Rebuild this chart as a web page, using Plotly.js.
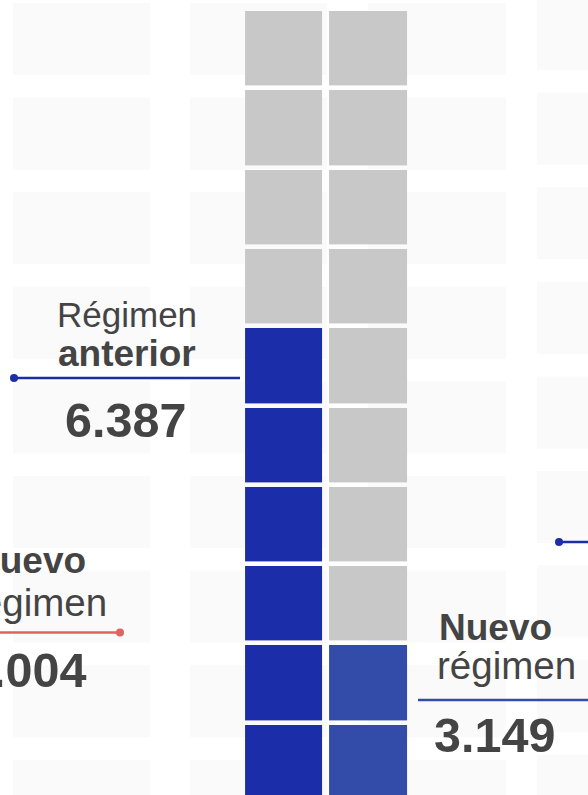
<!DOCTYPE html>
<html>
<head>
<meta charset="utf-8">
<script src="https://cdn.plot.ly/plotly-3.0.1.min.js"></script>
<style>
  html, body { margin: 0; padding: 0; background: #ffffff; }
  #chart { width: 588px; height: 795px; }
</style>
</head>
<body>
<div id="chart"></div>
<script>
// ---- data ----
const groups = ['Régimen anterior', 'Nuevo régimen'];
const groupValues = ['6.387', '3.149'];
const filledCells = [6, 2];          // coloured cells per column, counted from the bottom
const cellRows = 10;                 // visible cells per column
const otherGroup = 'Nuevo régimen';  // partly cropped label on the left
const otherValue = '3.004';

// ---- styles ----
const GRAY = '#c8c8c8';
const BLUE_DARK = '#1b2da9';
const BLUE_MID = '#344ca9';
const RED = '#e06262';
const TEXT = '#444444';
const FONT = 'Liberation Sans, Arial, Helvetica, sans-serif';

// build the waffle matrix (rows top -> bottom, columns left -> right)
const z = [];
for (let r = 0; r < cellRows; r++) {
  const row = [];
  for (let c = 0; c < groups.length; c++) {
    const filled = r >= cellRows - filledCells[c];
    row.push(filled ? c + 1 : 0);
  }
  z.push(row);
}

const waffle = {
  type: 'heatmap',
  z: z,
  x0: 284.2, dx: 84.3,
  y0: 48.6, dy: 79.3,
  xgap: 7, ygap: 4.6,
  zmin: 0, zmax: 2,
  colorscale: [
    [0, GRAY], [0.333, GRAY],
    [0.333, BLUE_DARK], [0.667, BLUE_DARK],
    [0.667, BLUE_MID], [1, BLUE_MID]
  ],
  showscale: false,
  hoverinfo: 'skip'
};

// faint background grid of placeholder cells
const shapes = [];
const bgCols = [[13, 150, 3], [190, 327, 3], [368, 506, 3], [537, 675, -2]];
bgCols.forEach(([x0, x1, off]) => {
  for (let k = 0; k < 9; k++) {
    const y0 = off + 94.6 * k;
    shapes.push({
      type: 'rect', layer: 'below', xref: 'x', yref: 'y',
      x0: x0, x1: x1, y0: y0, y1: y0 + 72,
      fillcolor: '#fafafa', line: { width: 0 }
    });
  }
});

function leader(x0, x1, y, color, dotX) {
  shapes.push({ type: 'line', xref: 'x', yref: 'y', x0: x0, x1: x1, y0: y, y1: y,
    line: { color: color, width: 2.6 } });
  if (dotX !== null) {
    shapes.push({ type: 'circle', xref: 'x', yref: 'y',
      x0: dotX - 4, x1: dotX + 4, y0: y - 4, y1: y + 4,
      fillcolor: color, line: { width: 0 } });
  }
}
leader(14, 240, 378, BLUE_DARK, 14);        // Régimen anterior
leader(418, 600, 700, BLUE_MID, null);      // Nuevo régimen (right)
leader(-10, 120, 632.5, RED, 120);          // cropped group on the left
leader(559, 600, 542, BLUE_DARK, 559);      // cropped group on the right

const [antA, antB] = groups[0].split(' ');
const [newA, newB] = groups[1].split(' ');
const [othA, othB] = otherGroup.split(' ');

function ann(text, x, y, size, bold, xanchor) {
  return {
    xref: 'x', yref: 'y', x: x, y: y, showarrow: false,
    xanchor: xanchor, yanchor: 'middle',
    text: bold ? '<b>' + text + '</b>' : text,
    font: { family: FONT, size: size, color: TEXT }
  };
}

const annotations = [
  ann(antA, 127, 314, 35, false, 'center'),
  ann(antB, 127, 353, 37, true, 'center'),
  ann(groupValues[0], 125, 420, 48.5, true, 'center'),

  ann(newA, 437, 627, 37, true, 'left'),
  ann(newB, 435, 665, 38.5, false, 'left'),
  ann(groupValues[1], 432, 735, 48.5, true, 'left'),

  ann(othA, 88, 560, 37, true, 'right'),
  ann(othB, 109, 602, 38.5, false, 'right'),
  ann(otherValue, 88, 670, 48.5, true, 'right')
];

const layout = {
  width: 588, height: 795,
  margin: { l: 0, r: 0, t: 0, b: 0 },
  paper_bgcolor: '#ffffff', plot_bgcolor: '#ffffff',
  xaxis: { range: [0, 588], visible: false, fixedrange: true },
  yaxis: { range: [795, 0], visible: false, fixedrange: true },
  shapes: shapes,
  annotations: annotations,
  showlegend: false
};

Plotly.newPlot('chart', [waffle], layout, { staticPlot: true, displayModeBar: false });
</script>
</body>
</html>
